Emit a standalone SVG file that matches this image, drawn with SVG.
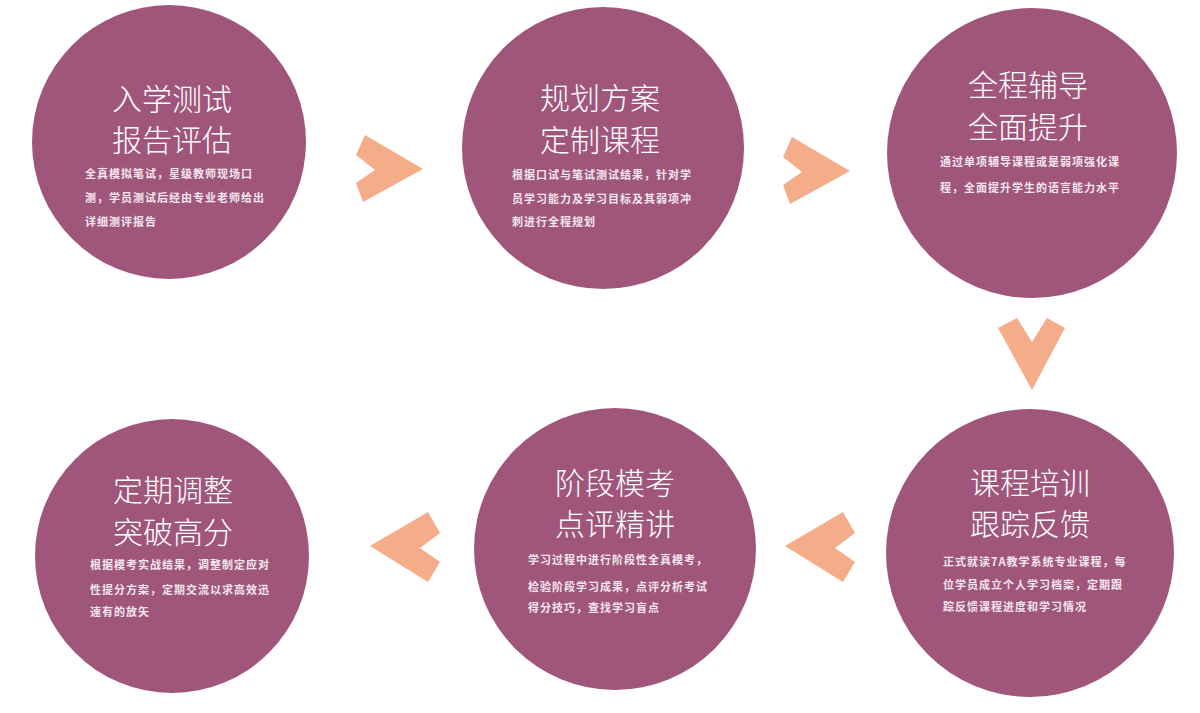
<svg xmlns="http://www.w3.org/2000/svg" width="1200" height="713" viewBox="0 0 1200 713">
<style>
.c{fill:#a0567b}
.t{fill:#ffffff;font-family:"Noto Sans CJK SC","Noto Sans",sans-serif;font-size:30px;font-weight:300;text-anchor:middle}
.s{fill:#f4e6ee;font-family:"Noto Sans CJK SC","Noto Sans",sans-serif;font-size:11px;letter-spacing:1px;font-weight:bold}
.a{fill:#f4ad88}
</style>
<rect width="1200" height="713" fill="#ffffff"/>
<g id="connectors">
<polygon class="a" points="365,135 423,169 363,202 356,183 375,170 356,155"/>
<polygon class="a" points="792,137 850,171 790,204 783,185 802,172 783,157"/>
<polygon class="a" points="998,328 1017,318 1032,342 1047,318 1065,328 1032,390"/>
<polygon class="a" points="785,546 843,512 855,533 835,548 855,562 843,582"/>
<polygon class="a" points="370,546 428,512 440,533 420,548 440,562 428,582"/>
</g>
<g id="n1">
<circle class="c" cx="169" cy="142" r="137"/>
<text class="t" x="172" y="110">入学测试</text>
<text class="t" x="172" y="151">报告评估</text>
<text class="s" x="85" y="178">全真模拟笔试，星级教师现场口</text>
<text class="s" x="85" y="202">测，学员测试后经由专业老师给出</text>
<text class="s" x="85" y="226">详细测评报告</text>
</g>
<g id="n2">
<circle class="c" cx="603" cy="148" r="141"/>
<text class="t" x="600" y="109">规划方案</text>
<text class="t" x="600" y="151">定制课程</text>
<text class="s" x="512" y="179">根据口试与笔试测试结果，针对学</text>
<text class="s" x="512" y="203">员学习能力及学习目标及其弱项冲</text>
<text class="s" x="512" y="226">刺进行全程规划</text>
</g>
<g id="n3">
<circle class="c" cx="1032" cy="153" r="145"/>
<text class="t" x="1028" y="96">全程辅导</text>
<text class="t" x="1028" y="138">全面提升</text>
<text class="s" x="940" y="166">通过单项辅导课程或是弱项强化课</text>
<text class="s" x="940" y="192">程，全面提升学生的语言能力水平</text>
</g>
<g id="n4">
<circle class="c" cx="1030" cy="553" r="144"/>
<text class="t" x="1030" y="494">课程培训</text>
<text class="t" x="1030" y="535">跟踪反馈</text>
<text class="s" x="943" y="566">正式就读7A教学系统专业课程，每</text>
<text class="s" x="943" y="589">位学员成立个人学习档案，定期跟</text>
<text class="s" x="943" y="611">踪反馈课程进度和学习情况</text>
</g>
<g id="n5">
<circle class="c" cx="615" cy="549" r="141"/>
<text class="t" x="615" y="494">阶段模考</text>
<text class="t" x="615" y="535">点评精讲</text>
<text class="s" x="528" y="564">学习过程中进行阶段性全真模考，</text>
<text class="s" x="528" y="591">检验阶段学习成果，点评分析考试</text>
<text class="s" x="528" y="612">得分技巧，查找学习盲点</text>
</g>
<g id="n6">
<circle class="c" cx="172" cy="556" r="137"/>
<text class="t" x="173" y="501">定期调整</text>
<text class="t" x="173" y="543">突破高分</text>
<text class="s" x="90" y="569">根据模考实战结果，调整制定应对</text>
<text class="s" x="90" y="594">性提分方案，定期交流以求高效迅</text>
<text class="s" x="90" y="616">速有的放矢</text>
</g>
</svg>
